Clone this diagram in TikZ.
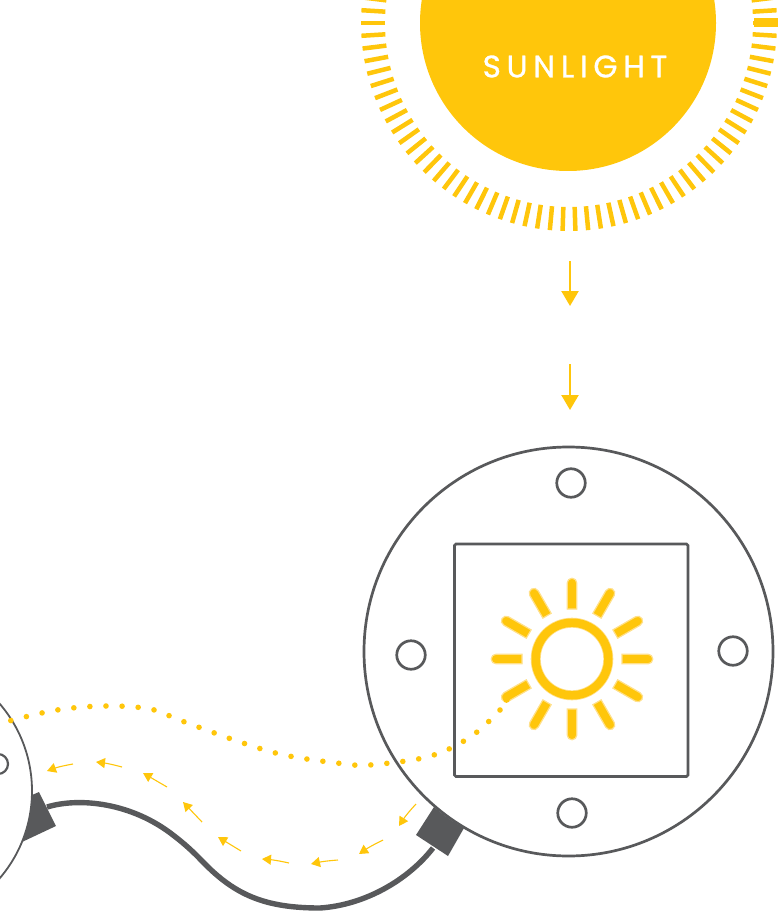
\documentclass[tikz,border=0pt]{standalone}
\usepackage{fontspec}
\newfontfamily\sunfont[LetterSpace=18.6,FakeBold=1]{Poppins}
\usetikzlibrary{arrows.meta}
\definecolor{sunyellow}{HTML}{FFC60B}
\definecolor{glow}{HTML}{FFE08A}
\definecolor{steel}{HTML}{58595B}
\tikzset{
  outline/.style={draw=steel,line width=2.7pt,fill=none},
  hole/.style={circle,draw=steel,line width=2.7pt,fill=white,inner sep=0pt,minimum size=28.5pt},
  flow/.style={sunyellow,line width=1.1pt,-{Triangle[length=9pt,width=10pt]}},
  down/.style={sunyellow,line width=2.3pt,-{Triangle[length=15pt,width=17pt]}},
  cable/.style={draw=steel,line width=5.4pt},
  dots/.style={draw=sunyellow,line width=5.6pt,line cap=round,dash pattern=on 0pt off 16.1pt},
  plug/.style={fill=steel},
}
\begin{document}
\begin{tikzpicture}[x=1pt,y=-1pt]
\useasboundingbox (0,0) rectangle (779,912);
\clip (0,0) rectangle (779,912);
% big sun
\node[circle,fill=sunyellow,inner sep=0pt,minimum size=296pt] (sun) at (568,23) {};
\foreach \k in {-51,-50,...,51}{
  \draw[sunyellow,line width=4.5pt] ({569+184*cos(270+\k*3.5294-1.765)},{23-184*sin(270+\k*3.5294-1.765)}) -- ({569+208*cos(270+\k*3.5294-1.765)},{23-208*sin(270+\k*3.5294-1.765)});
}
\fill[sunyellow] (754,18.5) rectangle (778,27.5);
\node[text=white,font=\sunfont\fontsize{31}{31}\selectfont,inner sep=0pt,anchor=center] (label) at (575,66.5) {SUNLIGHT};
% down arrows
\coordinate (d1a) at (570,261); \coordinate (d1b) at (570,306);
\coordinate (d2a) at (570,364); \coordinate (d2b) at (570,410);
\draw[down] (d1a) -- (d1b);
\draw[down] (d2a) -- (d2b);
% left panel
\node[circle,draw=steel,line width=1.8pt,inner sep=0pt,minimum size=268pt] (leftpanel) at (-102,791) {};
\node[circle,draw=steel,line width=2.2pt,inner sep=0pt,minimum size=20pt] (lefthole) at (-2,764) {};
% main panel
\node[circle,draw=steel,line width=2.7pt,inner sep=0pt,minimum size=409pt] (panel) at (568.5,651.5) {};
\draw[outline,rounded corners=1.5pt] (454.5,544) rectangle (688,776.5);
\node[hole] (h1) at (571,483) {};
\node[hole] (h2) at (411,655) {};
\node[hole] (h3) at (733,651) {};
\node[hole] (h4) at (572,813) {};
% sun icon
\coordinate (ic) at (572,659);
\draw[glow,line width=1.4pt] (ic) circle (40.6pt);
\draw[glow,line width=1.4pt] (ic) circle (32pt);
\draw[sunyellow,line width=8.4pt] (ic) circle (36.3pt);
\foreach \a in {0,30,...,330}{
  \begin{scope}[shift={(ic)},rotate=\a]
    \filldraw[fill=sunyellow,draw=glow,line width=1.2pt] (-4.8,-50) -- (-4.8,-76) arc (180:360:4.8) -- (4.8,-50) -- cycle;
  \end{scope}
}
\fill[sunyellow] (506.5,699.5) circle (3.4pt);
% dotted path
\coordinate (dotA) at (500,710);
\coordinate (dotB) at (9,721);
\draw[dots] plot[smooth,tension=0.6] coordinates {(dotA) (477,732) (449,749) (418,759) (370,765) (354,765) (289,756) (243,743) (182,721) (150,709) (105,706) (57,710) (dotB)};
% cable
\coordinate (plugL) at (47,807);
\coordinate (plugR) at (433,848);
\draw[cable] (plugL) .. controls (80,797) and (132,803) .. (173,835)
  .. controls (190,848) and (198,857) .. (203,862)
  .. controls (235,895) and (265,908) .. (320,908)
  .. controls (365,905) and (408,880) .. (plugR);
\fill[plug] (39,792) -- (56,826) -- (22,842) .. controls (28,826) and (31,812) .. (32,795) -- cycle;
\fill[plug] (434,807) .. controls (443,815) and (453,822) .. (464,828) -- (448,856) -- (416,835) -- cycle;
% flow arrows
\foreach \n/\ax/\ay/\bx/\by/\b in {
 a/416/804/399/826/-5, b/383/840/359/854/-4, c/338/860/311/864/-4, d/289/863/262/859/-4,
 e/241/851/218/837/0, f/202/822/183/802/0, g/167/787/143/773/0, h/122/767/96/762/-4, i/73/764/47/771/-5}{
  \coordinate (\n s) at (\ax,\ay);
  \coordinate (\n t) at (\bx,\by);
  \draw[flow] (\n s) to[bend left=\b] (\n t);
}
\end{tikzpicture}
\end{document}
